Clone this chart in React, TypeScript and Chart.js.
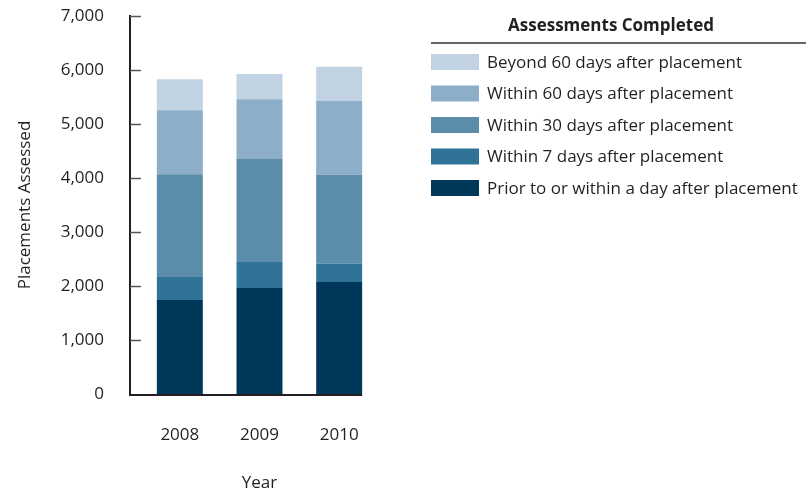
import React, { useEffect, useRef } from 'react';
import { Chart, registerables } from 'chart.js';

Chart.register(...registerables);

// ---- data ----
const years = ['2008', '2009', '2010'];
const priorOrWithinDay = [1740, 1965, 2075];
const within7Days = [425, 480, 335];
const within30Days = [1905, 1905, 1650];
const within60Days = [1185, 1110, 1370];
const beyond60Days = [575, 465, 630];
const seriesLabels = [
  'Prior to or within a day after placement',
  'Within 7 days after placement',
  'Within 30 days after placement',
  'Within 60 days after placement',
  'Beyond 60 days after placement',
];
const yTickValues = [0, 1000, 2000, 3000, 4000, 5000, 6000, 7000];
const legendTitle = 'Assessments Completed';
const xTitle = 'Year';
const yTitle = 'Placements Assessed';

const seriesColors = ['#00385a', '#2f7497', '#5b8dab', '#8daec8', '#c1d3e2'];
const TEXT = '#231f20';
const FONT = '"Open Sans", sans-serif';

const axesPlugin = {
  id: 'refAxes',
  afterDatasetsDraw(chart: any) {
    const { ctx, chartArea } = chart;
    const y = chart.scales.y;
    const axisX = chartArea.left - 10;
    const zeroY = y.getPixelForValue(0);
    const topY = y.getPixelForValue(yTickValues[yTickValues.length - 1]);
    const meta = chart.getDatasetMeta(0);
    const last = meta.data[meta.data.length - 1] as any;
    const rightX = last.x + last.width / 2;
    ctx.save();
    ctx.strokeStyle = TEXT;
    ctx.lineWidth = 2;
    ctx.beginPath();
    ctx.moveTo(axisX, topY - 1);
    ctx.lineTo(axisX, zeroY + 1);
    ctx.lineTo(rightX, zeroY + 1);
    ctx.stroke();
    ctx.lineWidth = 1.5;
    ctx.strokeStyle = '#555';
    yTickValues.forEach((v) => {
      if (v === 0) return;
      const py = Math.round(y.getPixelForValue(v)) + 0.5;
      ctx.beginPath();
      ctx.moveTo(axisX, py);
      ctx.lineTo(axisX + 11, py);
      ctx.stroke();
    });
    ctx.restore();
  },
};

const legendPlugin = {
  id: 'refLegend',
  afterDraw(chart: any) {
    const { ctx } = chart;
    const left = 431;
    const right = 806;
    ctx.save();
    ctx.fillStyle = TEXT;
    ctx.font = `bold 17px ${FONT}`;
    ctx.textAlign = 'center';
    ctx.textBaseline = 'alphabetic';
    ctx.fillText(legendTitle, 611, 31);
    ctx.strokeStyle = '#333';
    ctx.lineWidth = 1.5;
    ctx.beginPath();
    ctx.moveTo(left, 43);
    ctx.lineTo(right, 43);
    ctx.stroke();
    const ds = chart.data.datasets.slice().reverse();
    ctx.font = `17px ${FONT}`;
    ctx.textAlign = 'left';
    ctx.textBaseline = 'middle';
    ds.forEach((d: any, i: number) => {
      const top = 54 + i * 31.5;
      ctx.fillStyle = d.backgroundColor;
      ctx.fillRect(left, top, 48, 16);
      ctx.fillStyle = TEXT;
      ctx.fillText(d.label, 487, top + 9);
    });
    ctx.restore();
  },
};

export default function App() {
  const ref = useRef<HTMLCanvasElement | null>(null);
  useEffect(() => {
    document.body.style.margin = '0';
    const canvas = ref.current;
    if (!canvas) return;
    Chart.defaults.font.family = FONT;
    const seriesValues = [priorOrWithinDay, within7Days, within30Days, within60Days, beyond60Days];
    const chart = new Chart(canvas, {
      type: 'bar',
      data: {
        labels: years,
        datasets: seriesValues.map((vals, i) => ({
          label: seriesLabels[i],
          data: vals,
          backgroundColor: seriesColors[i],
          borderWidth: 0,
          barPercentage: 0.577,
          categoryPercentage: 1,
        })),
      },
      options: {
        responsive: false,
        animation: false,
        layout: { padding: { top: 16, right: 430, bottom: 0, left: 0 } },
        plugins: { legend: { display: false }, tooltip: { enabled: false } },
        scales: {
          x: {
            stacked: true,
            grid: { display: false, drawTicks: false },
            border: { display: false },
            ticks: { color: TEXT, font: { size: 17, family: FONT }, padding: 31 },
            title: {
              display: true,
              text: xTitle,
              color: TEXT,
              font: { size: 17, family: FONT },
              padding: { top: 0, bottom: 0 },
            },
            afterFit: (s: any) => {
              s.height = 99;
              s.paddingLeft = 0;
              s.paddingRight = 0;
            },
          },
          y: {
            stacked: true,
            min: 0,
            max: 7000,
            grid: { display: false, drawTicks: false },
            border: { display: false },
            afterBuildTicks: (s: any) => {
              s.ticks = yTickValues.map((v) => ({ value: v }));
            },
            ticks: {
              color: TEXT,
              font: { size: 17, family: FONT },
              padding: 36,
              callback: (v: any) => Number(v).toLocaleString('en-US'),
            },
            title: {
              display: true,
              text: yTitle,
              color: TEXT,
              font: { size: 17, family: FONT },
              padding: { top: 15, bottom: 0 },
            },
            afterFit: (s: any) => {
              s.width = 140;
              s.paddingTop = 0;
              s.paddingBottom = 0;
            },
          },
        },
      },
      plugins: [axesPlugin, legendPlugin],
    });
    return () => chart.destroy();
  }, []);
  return (
    <div style={{ position: 'fixed', left: 0, top: 0, width: 809, height: 493 }}>
      <canvas ref={ref} width={809} height={493} style={{ display: 'block', width: 809, height: 493 }} />
    </div>
  );
}
